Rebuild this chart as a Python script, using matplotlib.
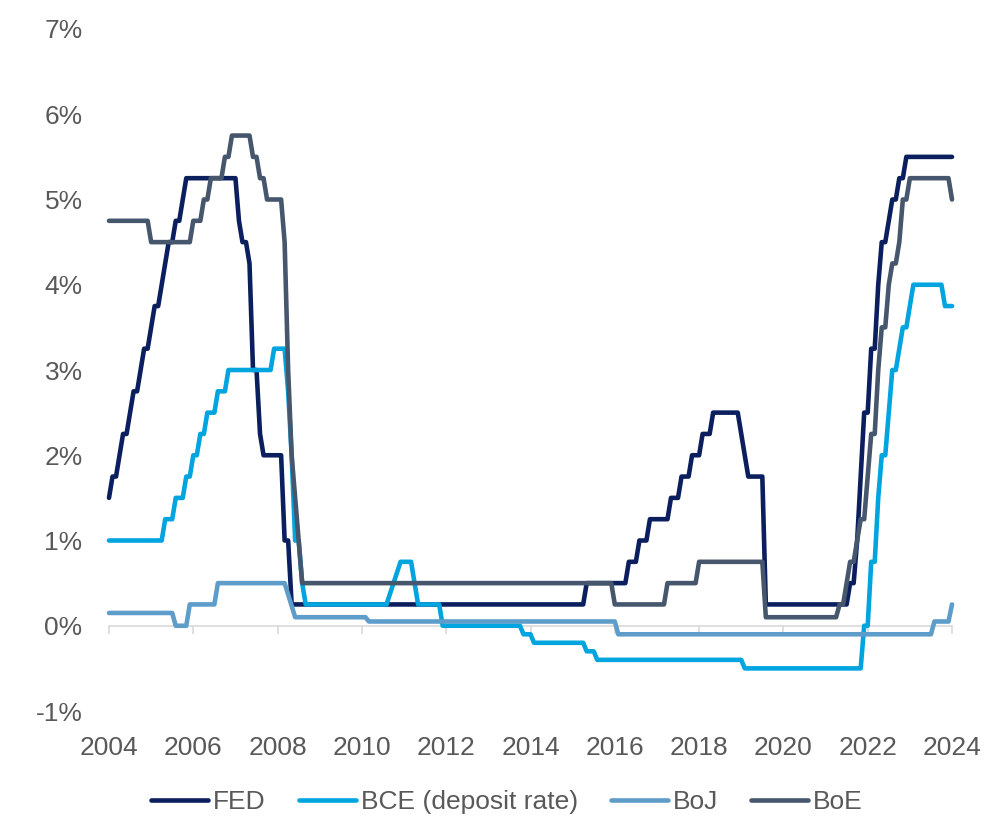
import matplotlib
matplotlib.use("Agg")
import matplotlib.pyplot as plt
import numpy as np

plt.rcParams["font.family"] = ["Liberation Sans", "DejaVu Sans"]

# month index 0 = start of the axis (label 2004), one unit = one month
fed_m = [0, 1, 2, 3, 4, 5, 6, 7, 8, 9, 10, 11, 12, 13, 14, 15, 16, 17, 18, 19, 20, 21, 22,
         36, 37, 38, 39, 40, 41, 42, 43, 44, 49, 50, 51, 52,
         135, 136, 147, 148, 150, 151, 153, 154, 159, 160, 162, 163, 165, 166, 168, 169, 171, 172,
         179, 180, 181, 182, 186, 187,
         210, 211, 212, 213, 214, 215, 216, 217, 218, 219, 220, 221, 222, 223, 224, 225, 226, 227, 240]
fed_v = [1.5, 1.75, 1.75, 2.0, 2.25, 2.25, 2.5, 2.75, 2.75, 3.0, 3.25, 3.25, 3.5, 3.75, 3.75, 4.0, 4.25, 4.5, 4.5, 4.75, 4.75, 5.0, 5.25,
         5.25, 4.75, 4.5, 4.5, 4.25, 3.0, 3.0, 2.25, 2.0, 2.0, 1.0, 1.0, 0.25,
         0.25, 0.5, 0.5, 0.75, 0.75, 1.0, 1.0, 1.25, 1.25, 1.5, 1.5, 1.75, 1.75, 2.0, 2.0, 2.25, 2.25, 2.5,
         2.5, 2.25, 2.0, 1.75, 1.75, 0.25,
         0.25, 0.5, 0.5, 1.0, 1.75, 2.5, 2.5, 3.25, 3.25, 4.0, 4.5, 4.5, 4.75, 5.0, 5.0, 5.25, 5.25, 5.5, 5.5]

bce_m = [0, 15, 16, 18, 19, 21, 22, 23, 24, 25, 26, 27, 28, 30, 31, 33, 34, 46, 47, 50, 51, 52, 53, 54, 55, 56,
         79, 83, 86, 88, 94, 95, 117, 118, 120, 121, 135, 136, 138, 139, 180, 181,
         214, 215, 216, 217, 218, 219, 220, 221, 222, 223, 224, 225, 226, 227, 228, 229, 237, 238, 240]
bce_v = [1.0, 1.0, 1.25, 1.25, 1.5, 1.5, 1.75, 1.75, 2.0, 2.0, 2.25, 2.25, 2.5, 2.5, 2.75, 2.75, 3.0, 3.0, 3.25, 3.25, 2.75, 2.0, 1.0, 1.0, 0.5, 0.25,
         0.25, 0.75, 0.75, 0.25, 0.25, 0.0, 0.0, -0.1, -0.1, -0.2, -0.2, -0.3, -0.3, -0.4, -0.4, -0.5,
         -0.5, 0.0, 0.0, 0.75, 0.75, 1.5, 2.0, 2.0, 2.5, 3.0, 3.0, 3.25, 3.5, 3.5, 3.75, 4.0, 4.0, 3.75, 3.75]

boj_m = [0, 18, 19, 22, 23, 30, 31, 50, 53, 73, 74, 144, 145, 234, 235, 239, 240]
boj_v = [0.15, 0.15, 0.0, 0.0, 0.25, 0.25, 0.5, 0.5, 0.1, 0.1, 0.05, 0.05, -0.1, -0.1, 0.05, 0.05, 0.25]

boe_m = [0, 11, 12, 23, 24, 26, 27, 28, 29, 32, 33, 34, 35, 39, 40, 41, 42, 43, 44, 45, 49, 50, 51, 52, 53, 54, 55,
         143, 144, 158, 159, 167, 168, 186, 187,
         207, 208, 209, 210, 211, 212, 213, 214, 215, 216, 217, 218, 219, 220, 221, 222, 223, 224, 225, 226, 227, 228, 239, 240]
boe_v = [4.75, 4.75, 4.5, 4.5, 4.75, 4.75, 5.0, 5.0, 5.25, 5.25, 5.5, 5.5, 5.75, 5.75, 5.75, 5.5, 5.5, 5.25, 5.25, 5.0, 5.0, 4.5, 3.0, 2.0, 1.5, 1.0, 0.5,
         0.5, 0.25, 0.25, 0.5, 0.5, 0.75, 0.75, 0.1,
         0.1, 0.25, 0.25, 0.5, 0.75, 0.75, 1.0, 1.25, 1.25, 1.75, 2.25, 2.25, 3.0, 3.5, 3.5, 4.0, 4.25, 4.25, 4.5, 5.0, 5.0, 5.25, 5.25, 5.0]

series = [
    ("FED", fed_m, fed_v, "#0b1f5e"),
    ("BCE (deposit rate)", bce_m, bce_v, "#00a5e0"),
    ("BoJ", boj_m, boj_v, "#5e9cc9"),
    ("BoE", boe_m, boe_v, "#46566d"),
]

year_ticks = list(range(2004, 2025, 2))
pct_ticks = list(range(-1, 8))
text_col = "#595959"

fig = plt.figure(figsize=(10.08, 8.22), dpi=100)
ax = fig.add_axes([109 / 1008, 111 / 822, 843 / 1008, 682 / 822])

for name, m, v, c in series:
    x = 2004 + np.array(m) / 12.0
    ax.plot(x, v, color=c, lw=3.3, label=name, solid_capstyle="round",
            solid_joinstyle="round", zorder=3, clip_on=False)

ax.set_xlim(2004, 2024)
ax.set_ylim(-1, 7)
for s in ax.spines.values():
    s.set_visible(False)

ax.set_yticks(pct_ticks)
ax.set_yticklabels([f"{p}%" for p in pct_ticks])
ax.set_xticks(year_ticks)
ax.set_xticklabels([str(y) for y in year_ticks])
ax.tick_params(axis="y", length=0, pad=19, labelsize=19, labelcolor=text_col)
ax.tick_params(axis="x", length=0, pad=18, labelsize=19, labelcolor=text_col)

# zero line with small tick marks, like the category axis crossing at 0
zero_ax = ax.secondary_xaxis(1 / 8)
zero_ax.set_xticks(year_ticks)
zero_ax.set_xticklabels([])
zero_ax.spines["bottom"].set_color("#d9d9d9")
zero_ax.spines["bottom"].set_linewidth(1.2)
zero_ax.tick_params(axis="x", direction="out", length=6, width=1.2, color="#d9d9d9")

fig.legend(loc="center", bbox_to_anchor=(0.503, 0.024), ncol=4, frameon=False,
           fontsize=19, labelcolor=text_col, handlelength=2.15, handletextpad=0.2,
           columnspacing=1.25)

fig.savefig("out.png", dpi=100)
